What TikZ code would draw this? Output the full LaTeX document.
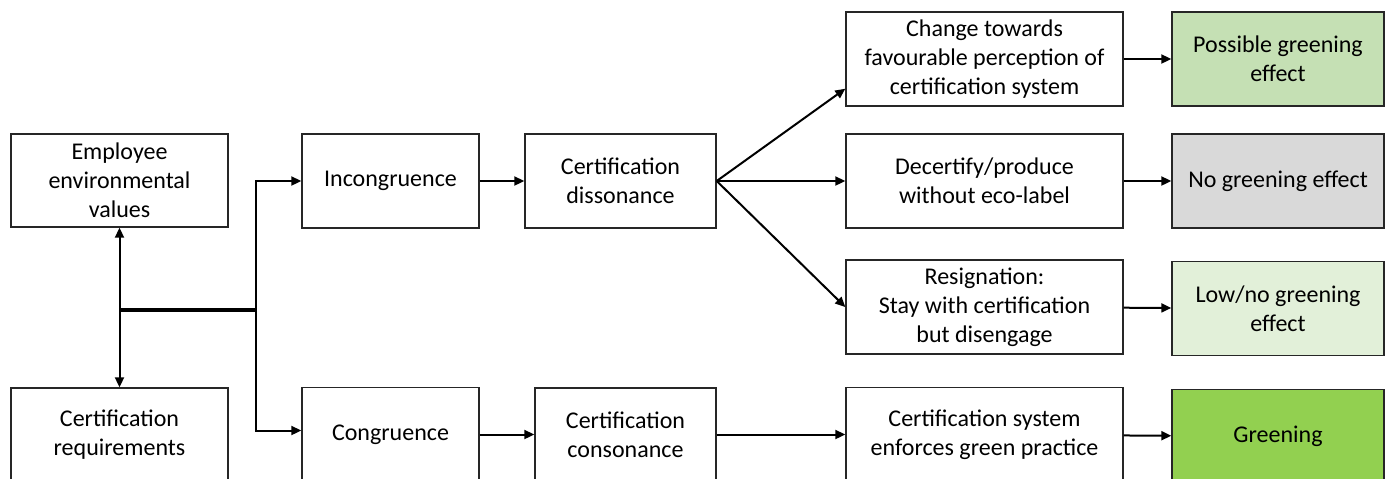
\documentclass[tikz,border=0pt]{standalone}
\usepackage{fontspec}
\setmainfont{Carlito}
\usetikzlibrary{arrows.meta}
\definecolor{lightgreen}{HTML}{C5E0B4}
\definecolor{palegreen}{HTML}{E2F0D9}
\definecolor{midgray}{HTML}{D9D9D9}
\definecolor{leafgreen}{HTML}{92D050}
\tikzset{
  box/.style={draw=black!85, line width=0.7pt, inner sep=0pt, align=center,
    font=\fontsize{12}{14.6}\selectfont},
  wbox/.style={box, minimum width=108.5pt, minimum height=46.5pt},
  mbox/.style={box, minimum width=88.5pt, minimum height=47pt},
  lbox/.style={box, minimum width=138.5pt, minimum height=47pt},
  rbox/.style={box, minimum width=106pt, minimum height=47pt},
  >={Triangle[length=5pt,width=4.5pt]},
  link/.style={line width=1pt}
}
\begin{document}
\begin{tikzpicture}[x=0.5pt,y=-0.5pt]
  \useasboundingbox (0,0) rectangle (1392,478);
  % left column
  \node [wbox] (emp) at (119.5,180.5) {Employee\\environmental\\values};
  \node [wbox] (req) at (119.5,434.5) {Certification\\requirements};
  % middle
  \node [mbox] (inc) at (390.5,181) {Incongruence};
  \node [mbox] (con) at (390.5,434.5) {Congruence};
  \node [box, minimum width=95.5pt, minimum height=47pt] (dis) at (620.5,181) {Certification\\dissonance};
  \node [box, minimum width=90.5pt, minimum height=46.5pt] (cons) at (625.5,434.5) {Certification\\consonance};
  % reactions
  \node [lbox] (chg) at (984.5,59) {Change towards\\favourable perception of\\certification system};
  \node [lbox] (dec) at (984.5,181) {Decertify/produce\\without eco-label};
  \node [lbox] (res) at (984.5,307) {Resignation:\\Stay with certification\\but disengage};
  \node [lbox] (enf) at (984.5,434.5) {Certification system\\enforces green practice};
  % outcomes
  \node [rbox, fill=lightgreen] (pos) at (1278,59) {Possible greening\\effect};
  \node [rbox, fill=midgray] (non) at (1278,181) {No greening effect};
  \node [rbox, fill=palegreen] (low) at (1278,308.5) {Low/no greening\\effect};
  \node [rbox, fill=leafgreen] (grn) at (1278,436.5) {Greening};
  % connectors
  \coordinate (j1) at (119.5,310);
  \coordinate (j2) at (256,310);
  \draw [link,<->] (emp) -- (req);
  \draw [line width=1.7pt] (j1) -- (j2);
  \draw [link,->] (j2) |- (inc);
  \draw [link,->] (j2) |- ([yshift=2pt]con.west);
  \draw [link,->] (inc) -- (dis);
  \draw [link,->] (con) -- (cons);
  \draw [link,->] (dis.east) -- ([yshift=9pt]chg.south west);
  \draw [link,->] (dis.east) -- (dec.west);
  \draw [link,->] (dis.east) -- (res.west);
  \draw [link,->] (cons) -- (enf);
  \draw [link,->] (chg) -- (pos);
  \draw [link,->] (dec) -- (non);
  \draw [link,->] (res) -- (low);
  \draw [link,->] (enf) -- (grn);
\end{tikzpicture}
\end{document}
